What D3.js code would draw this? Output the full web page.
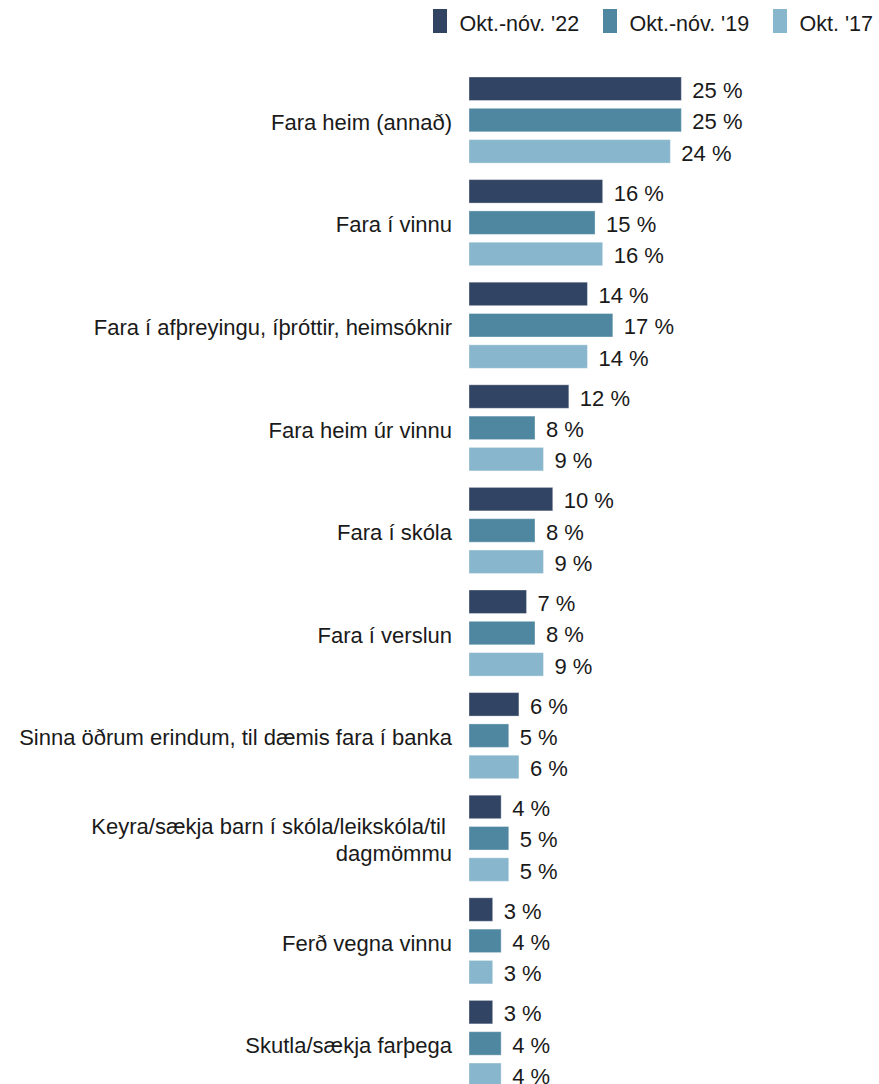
<!DOCTYPE html>
<html>
<head>
<meta charset="utf-8">
<script src="https://cdn.jsdelivr.net/npm/d3@7"></script>
<style>
  html, body { margin: 0; padding: 0; background: #fff; }
  svg { display: block; font-family: "Liberation Sans", Arial, sans-serif; }
  text { white-space: pre; }
</style>
</head>
<body>
<svg id="chart" width="879" height="1084"></svg>
<script>
const categories = [
  ["Fara heim (annað)"],
  ["Fara í vinnu"],
  ["Fara í afþreyingu, íþróttir, heimsóknir"],
  ["Fara heim úr vinnu"],
  ["Fara í skóla"],
  ["Fara í verslun"],
  ["Sinna öðrum erindum, til dæmis fara í banka"],
  ["Keyra/sækja barn í skóla/leikskóla/til ", "dagmömmu"],
  ["Ferð vegna vinnu"],
  ["Skutla/sækja farþega"]
];
const seriesNames = ["Okt.-nóv. '22", "Okt.-nóv. '19", "Okt. '17"];
const values22 = [25.1, 15.8, 14.0, 11.8, 9.9, 6.8, 5.9, 3.8, 2.8, 2.8];
const values19 = [25.1, 14.9, 17.0, 7.8, 7.8, 7.8, 4.7, 4.7, 3.8, 3.8];
const values17 = [23.8, 15.8, 14.0, 8.8, 8.8, 8.8, 5.9, 4.7, 2.8, 3.8];
const colors = ["#314463", "#4f87a1", "#88b6cc"];

const series = [values22, values19, values17];
const svg = d3.select("#chart");
const fontSize = 22;
const legendFont = 21.5;
const x0 = 469;
const x = d3.scaleLinear().domain([0, 25]).range([x0, x0 + 211.5]);

const groupTop = 77, groupStep = 102.6, groupGap = 16.5;
const catKeys = categories.map((c, i) => i);
const y0 = d3.scaleBand().domain(catKeys)
  .range([groupTop, groupTop + groupStep * categories.length - groupGap])
  .paddingInner(groupGap / groupStep).paddingOuter(0);
const y1 = d3.scaleBand().domain(d3.range(series.length))
  .range([0, y0.bandwidth()]).paddingInner(0.25).paddingOuter(0);

// legend
const legendX = [433, 603, 773];
const lg = svg.append("g");
seriesNames.forEach((name, i) => {
  lg.append("rect").attr("x", legendX[i]).attr("y", 9).attr("width", 14).attr("height", 24)
    .attr("fill", colors[i]);
  lg.append("text").attr("x", legendX[i] + 26.5).attr("y", 23).attr("dy", "0.35em")
    .attr("font-size", legendFont).attr("fill", "#1a1a1a").text(name);
});

const groups = svg.append("g").selectAll("g").data(catKeys).join("g")
  .attr("transform", d => `translate(0,${y0(d)})`);

groups.each(function(ci) {
  const g = d3.select(this);
  series.forEach((vals, si) => {
    const v = vals[ci];
    g.append("rect")
      .attr("x", x(0)).attr("y", y1(si))
      .attr("width", x(v) - x(0)).attr("height", y1.bandwidth())
      .attr("fill", colors[si])
      .attr("stroke", "#ffffff").attr("stroke-opacity", 0.35).attr("stroke-width", 1);
    g.append("text")
      .attr("x", x(v) + 11).attr("y", y1(si) + y1.bandwidth() / 2 + 1.5).attr("dy", "0.35em")
      .attr("font-size", fontSize).attr("fill", "#1a1a1a")
      .text(d3.format(".0f")(v) + " %");
  });
  const lines = categories[ci];
  const lh = 27;
  const cy = y0.bandwidth() / 2 + 2;
  lines.forEach((ln, li) => {
    g.append("text")
      .attr("x", 452).attr("text-anchor", "end")
      .attr("y", cy + (li - (lines.length - 1) / 2) * lh).attr("dy", "0.35em")
      .attr("font-size", fontSize).attr("fill", "#1a1a1a")
      .text(ln);
  });
});
</script>
</body>
</html>
